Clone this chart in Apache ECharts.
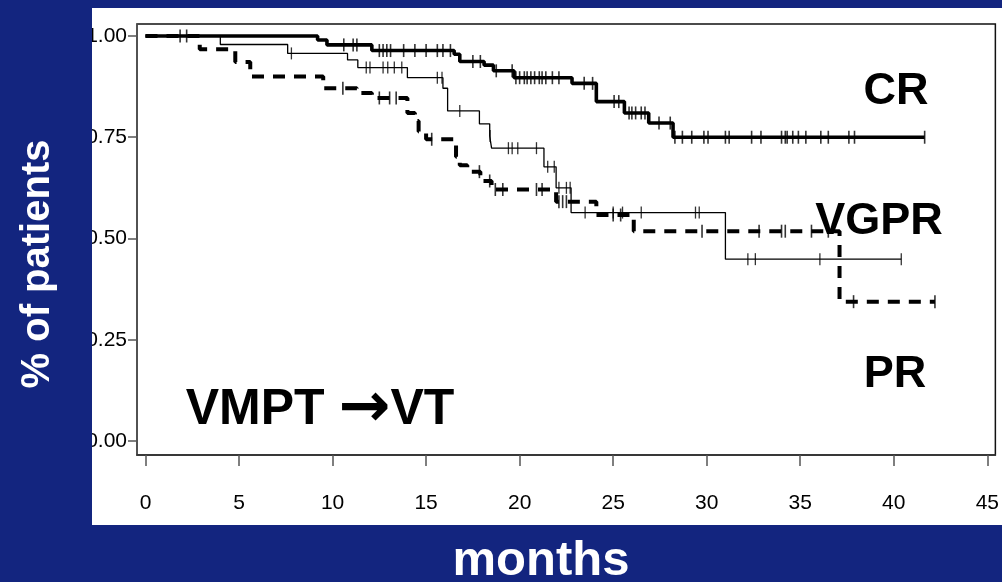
<!DOCTYPE html>
<html>
<head>
<meta charset="utf-8">
<script src="https://cdn.jsdelivr.net/npm/echarts@6/dist/echarts.min.js"></script>
<style>
html, body { margin: 0; padding: 0; background: #13257f; }
#panel { position: absolute; left: 92px; top: 8px; width: 910px; height: 517px; background: #fff; }
#chart { position: absolute; left: 0; top: 0; width: 1002px; height: 582px; }
</style>
</head>
<body>
<div id="panel"></div>
<div id="chart"></div>
<script>
// Kaplan-Meier steps: time (months) where each level starts, and the level
var crTime = [0, 9.2, 9.7, 12.1, 16.5, 16.8, 18.1, 18.6, 19.7, 22.8, 24.1, 25.6, 26.9, 28.2];
var crSurv = [1.0, 0.99, 0.978, 0.964, 0.955, 0.937, 0.928, 0.914, 0.897, 0.883, 0.838, 0.81, 0.785, 0.75];
var crEnd = 41.65;
var crCensor = [1.85, 2.2, 10.6, 11.1, 11.3, 12.5, 12.7, 12.9, 13.1, 13.8, 14.4, 15.0, 15.6, 15.9, 16.3,
  17.5, 17.9, 18.75, 19.6, 19.8, 20.0, 20.25, 20.4, 20.6, 20.8, 21.05, 21.2, 21.4, 21.75, 22.1,
  23.45, 23.9, 25.05, 25.3, 25.85, 26.0, 26.2, 26.5, 26.7, 27.45, 28.05, 28.3, 28.7, 29.2, 29.85,
  30.07, 31.0, 31.2, 32.4, 32.9, 34.0, 34.2, 34.3, 34.6, 34.9, 35.3, 36.1, 36.5, 37.6, 37.9, 41.65];

var vgprTime = [0, 4.0, 7.6, 10.8, 11.35, 14.0, 15.9, 16.15, 17.85, 18.4, 18.5, 21.3, 21.95, 22.75, 31.0];
var vgprSurv = [1.0, 0.979, 0.957, 0.941, 0.922, 0.897, 0.871, 0.815, 0.783, 0.753, 0.723, 0.677, 0.625, 0.564, 0.449];
var vgprEnd = 40.4;
var vgprCensor = [7.8, 11.8, 12.0, 12.7, 12.95, 13.3, 13.7, 15.6, 15.85, 16.8, 18.42, 19.4, 19.6, 19.9,
  20.9, 21.5, 21.85, 22.1, 22.5, 22.7, 23.5, 25.0, 25.5, 26.5, 29.4, 29.6, 32.2, 32.6, 36.05, 40.4];

var prTime = [0, 2.9, 4.8, 5.6, 9.5, 11.3, 12.1, 14.0, 14.4, 14.6, 15.0, 16.6, 16.8, 17.2, 17.9, 18.5, 21.95, 24.1, 26.1, 37.1];
var prSurv = [1.0, 0.967, 0.936, 0.9, 0.871, 0.859, 0.847, 0.81, 0.79, 0.764, 0.745, 0.702, 0.681, 0.665, 0.642, 0.621, 0.591, 0.558, 0.518, 0.344];
var prEnd = 42.2;
var prCensor = [10.55, 12.5, 13.05, 13.4, 15.3, 17.85, 18.4, 18.7, 19.1, 20.9, 21.2, 22.1, 22.3, 22.5,
  25.0, 25.4, 29.75, 32.8, 34.0, 34.2, 35.6, 36.5, 37.85, 42.2];

var xTicks = [0, 5, 10, 15, 20, 25, 30, 35, 40, 45];
var yTicks = [0, 0.25, 0.5, 0.75, 1];
var yTickLabels = ['0.00', '0.25', '0.50', '0.75', '1.00'];

function steps(times, surv, end) {
  var pts = times.map(function (t, i) { return [t, surv[i]]; });
  pts.push([end, surv[surv.length - 1]]);
  return pts;
}
function marks(censor, times, surv) {
  return censor.map(function (c) {
    var s = surv[0];
    for (var i = 0; i < times.length; i++) { if (times[i] <= c) s = surv[i]; }
    return [c, s];
  });
}

var chart = echarts.init(document.getElementById('chart'));
var tickFont = { color: '#000', fontSize: 21, fontFamily: 'Liberation Sans, Arial, sans-serif' };

chart.setOption({
  backgroundColor: 'transparent',
  animation: false,
  grid: {
    left: 137, right: 6, top: 24, bottom: 127,
    show: true, borderColor: '#111', borderWidth: 1.5, backgroundColor: 'transparent'
  },
  xAxis: {
    type: 'value', min: -0.454, max: 45.43,
    axisLine: { show: true, onZero: false, lineStyle: { color: '#333', width: 1.5 } },
    axisTick: { show: true, length: 11, customValues: xTicks, lineStyle: { color: '#555', width: 1.5 } },
    axisLabel: Object.assign({ margin: 38, customValues: xTicks }, tickFont),
    splitLine: { show: false }
  },
  yAxis: {
    type: 'value', min: -0.0346, max: 1.0296,
    axisLine: { show: true, onZero: false, lineStyle: { color: '#555', width: 1.5 } },
    axisTick: { show: true, length: 9, customValues: yTicks, lineStyle: { color: '#555', width: 1.5 } },
    axisLabel: Object.assign({
      margin: 10, customValues: yTicks,
      formatter: function (v) { return yTickLabels[Math.round(v * 4)]; }
    }, tickFont),
    splitLine: { show: false }
  },
  series: [
    {
      name: 'CR', type: 'line', step: 'end', symbol: 'none',
      lineStyle: { color: '#000', width: 3.6 }, data: steps(crTime, crSurv, crEnd)
    },
    {
      name: 'VGPR', type: 'line', step: 'end', symbol: 'none',
      lineStyle: { color: '#000', width: 1.3 }, data: steps(vgprTime, vgprSurv, vgprEnd)
    },
    {
      name: 'PR', type: 'line', step: 'end', symbol: 'none',
      lineStyle: { color: '#000', width: 4, type: [12, 9] }, data: steps(prTime, prSurv, prEnd)
    },
    {
      type: 'scatter', symbol: 'rect', symbolSize: [1.6, 13],
      itemStyle: { color: '#000' }, data: marks(crCensor, crTime, crSurv)
    },
    {
      type: 'scatter', symbol: 'rect', symbolSize: [1.3, 12],
      itemStyle: { color: '#000' }, data: marks(vgprCensor, vgprTime, vgprSurv)
    },
    {
      type: 'scatter', symbol: 'rect', symbolSize: [1.6, 13],
      itemStyle: { color: '#000' }, data: marks(prCensor, prTime, prSurv)
    }
  ],
  graphic: [
    // blue edge over the panel's left side, it crops the tick labels like the slide
    { type: 'rect', z: 100, shape: { x: 0, y: 0, width: 92, height: 582 }, style: { fill: '#13257f' } },
    {
      type: 'text', z: 101, x: 38, y: 264, rotation: Math.PI / 2,
      style: {
        text: '% of patients', fill: '#fff', font: 'bold 40px "Liberation Sans", Arial, sans-serif',
        align: 'center', verticalAlign: 'middle',
        shadowColor: 'rgba(0,0,0,0.8)', shadowOffsetX: 2, shadowOffsetY: 2, shadowBlur: 2
      }
    },
    {
      type: 'text', z: 101, x: 541, y: 561,
      style: {
        text: 'months', fill: '#fff', font: 'bold 49px "Liberation Sans", Arial, sans-serif',
        align: 'center', verticalAlign: 'middle',
        shadowColor: 'rgba(0,0,0,0.8)', shadowOffsetX: 2, shadowOffsetY: 2, shadowBlur: 2
      }
    },
    {
      type: 'text', z: 50, x: 896, y: 92,
      style: { text: 'CR', fill: '#000', font: 'bold 45px "Liberation Sans", Arial, sans-serif', align: 'center', verticalAlign: 'middle' }
    },
    {
      type: 'text', z: 50, x: 879, y: 222,
      style: { text: 'VGPR', fill: '#000', font: 'bold 45px "Liberation Sans", Arial, sans-serif', align: 'center', verticalAlign: 'middle' }
    },
    {
      type: 'text', z: 50, x: 895, y: 375,
      style: { text: 'PR', fill: '#000', font: 'bold 45px "Liberation Sans", Arial, sans-serif', align: 'center', verticalAlign: 'middle' }
    },
    {
      type: 'text', z: 50, x: 320, y: 410,
      style: {
        text: '{t|VMPT }{a|\u2192}{t|VT}', align: 'center', verticalAlign: 'middle',
        rich: {
          t: { fill: '#000', font: 'bold 50px "Liberation Sans", Arial, sans-serif', verticalAlign: 'middle', lineHeight: 60 },
          a: { fill: '#000', font: 'bold 62px "DejaVu Sans", sans-serif', verticalAlign: 'middle', lineHeight: 60 }
        }
      }
    }
  ]
});
</script>
</body>
</html>
